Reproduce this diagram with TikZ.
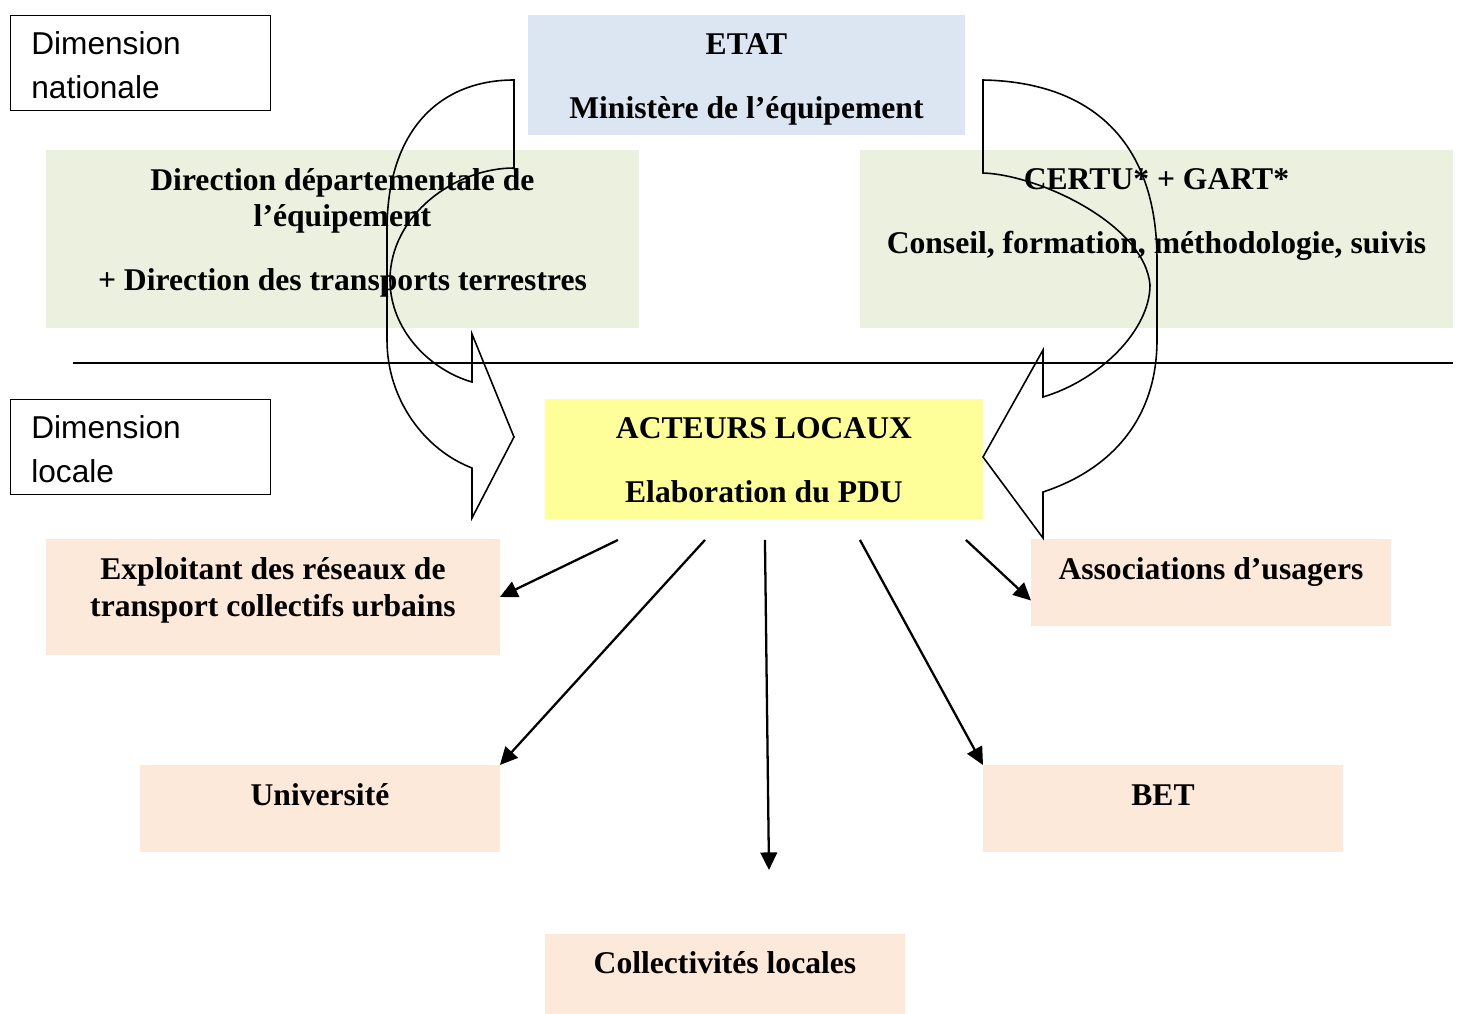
\documentclass[tikz,border=0pt]{standalone}
\usepackage{fontspec}
\setmainfont{Liberation Serif}
\setsansfont{Liberation Sans}
\usetikzlibrary{arrows.meta,positioning,calc}
\definecolor{etat}{HTML}{DCE6F2}
\definecolor{nat}{HTML}{EBF1DE}
\definecolor{loc}{HTML}{FFFF99}
\definecolor{act}{HTML}{FDE9D9}

\begin{document}
\begin{tikzpicture}[
    x=0.02cm, y=-0.02cm,
    blk/.style={rectangle,inner sep=0pt,outer sep=0pt,anchor=north west},
    dimbox/.style={rectangle,draw,line width=0.8pt,inner sep=0pt,anchor=north west,minimum width=5.2cm,minimum height=1.9cm},
    txt/.style={font=\fontsize{18}{21}\selectfont\bfseries,align=center,anchor=base,inner sep=0pt},
    dimtxt/.style={font=\fontsize{18}{24.5}\selectfont\sffamily,align=left,anchor=base west,inner sep=0pt},
    arr/.style={-{Triangle[length=10pt,width=9.5pt]},line width=1.3pt},
    bendarrow/.style={line width=0.9pt,line join=miter}
]
\useasboundingbox (0,0) rectangle (1458,1014);

% National level
\node[dimbox] (dimnat) at (10,15) {};
\node[blk,fill=etat,minimum width=8.74cm,minimum height=2.4cm] (etat) at (528,15) {};
\node[blk,fill=nat,minimum width=11.86cm,minimum height=3.56cm] (dde) at (46,150) {};
\node[blk,fill=nat,minimum width=11.86cm,minimum height=3.56cm] (certu) at (860,150) {};

% separator
\draw[line width=0.8pt] (73,363) -- (1453,363);

% Local level
\node[dimbox] (dimloc) at (10,399) {};
\node[blk,fill=loc,minimum width=8.76cm,minimum height=2.4cm] (acteurs) at (545,399) {};
\node[blk,fill=act,minimum width=9.08cm,minimum height=2.32cm] (exploit) at (46,539) {};
\node[blk,fill=act,minimum width=7.2cm,minimum height=1.74cm] (assoc) at (1031,539) {};
\node[blk,fill=act,minimum width=7.2cm,minimum height=1.74cm] (univ) at (140,765) {};
\node[blk,fill=act,minimum width=7.2cm,minimum height=1.74cm] (bet) at (983,765) {};
\node[blk,fill=act,minimum width=7.2cm,minimum height=1.6cm] (coll) at (545,934) {};

% Curved block arrows
\draw[bendarrow] (514,80) -- (514,168)
    .. controls (455,168) and (390,215) .. (390,280)
    .. controls (390,330) and (430,370) .. (472,382)
    -- (472,334) -- (514,437) -- (472,518) -- (472,468)
    .. controls (425,450) and (387,400) .. (387,340)
    -- (387,230)
    .. controls (387,130) and (440,80) .. (514,80) -- cycle;
\draw[bendarrow] (983,80) -- (983,173)
    .. controls (1040,175) and (1145,225) .. (1150,285)
    .. controls (1150,330) and (1100,380) .. (1043,397)
    -- (1043,350) -- (983,457) -- (1043,538) -- (1043,492)
    .. controls (1110,470) and (1157,420) .. (1157,340)
    -- (1157,260)
    .. controls (1157,140) and (1090,82) .. (983,80) -- cycle;

% Texts (base = last line)
\node[dimtxt] (dimnatT) at ($(dimnat.north west)+(21,83)$) {Dimension\\nationale};
\node[txt] (etatT) at ($(etat.north)+(0,103)$) {ETAT\\[14.9pt]Ministère de l’équipement};
\node[txt] (ddeT) at ($(dde.north)+(0,140)$) {Direction départementale de\\l’équipement\\[14.9pt]+ Direction des transports terrestres};
\node[txt] (certuT) at ($(certu.north)+(0,103)$) {CERTU* + GART*\\[14.9pt]Conseil, formation, méthodologie, suivis};
\node[dimtxt] (dimlocT) at ($(dimloc.north west)+(21,83)$) {Dimension\\locale};
\node[txt] (acteursT) at ($(acteurs.north)+(0,103)$) {ACTEURS LOCAUX\\[14.9pt]Elaboration du PDU};
\node[txt] (exploitT) at ($(exploit.north)+(0,77)$) {Exploitant des réseaux de\\transport collectifs urbains};
\node[txt] (assocT) at ($(assoc.north)+(0,40)$) {Associations d’usagers};
\node[txt] (univT) at ($(univ.north)+(0,40)$) {Université};
\node[txt] (betT) at ($(bet.north)+(0,40)$) {BET};
\node[txt] (collT) at ($(coll.north)+(0,39)$) {Collectivités locales};

% Links from the local actors
\coordinate (collEnd) at (769,870);
\draw[arr] ($(acteurs.south)+(-146,21)$) -- (exploit.east);
\draw[arr] ($(acteurs.south)+(-59,21)$) -- (univ.north east);
\draw[arr] ($(acteurs.south)+(1,21)$) -- (collEnd);
\draw[arr] ($(acteurs.south)+(96,21)$) -- (bet.north west);
\draw[arr] ($(acteurs.south)+(202,21)$) -- ($(assoc.west)+(0,18)$);
\end{tikzpicture}
\end{document}
